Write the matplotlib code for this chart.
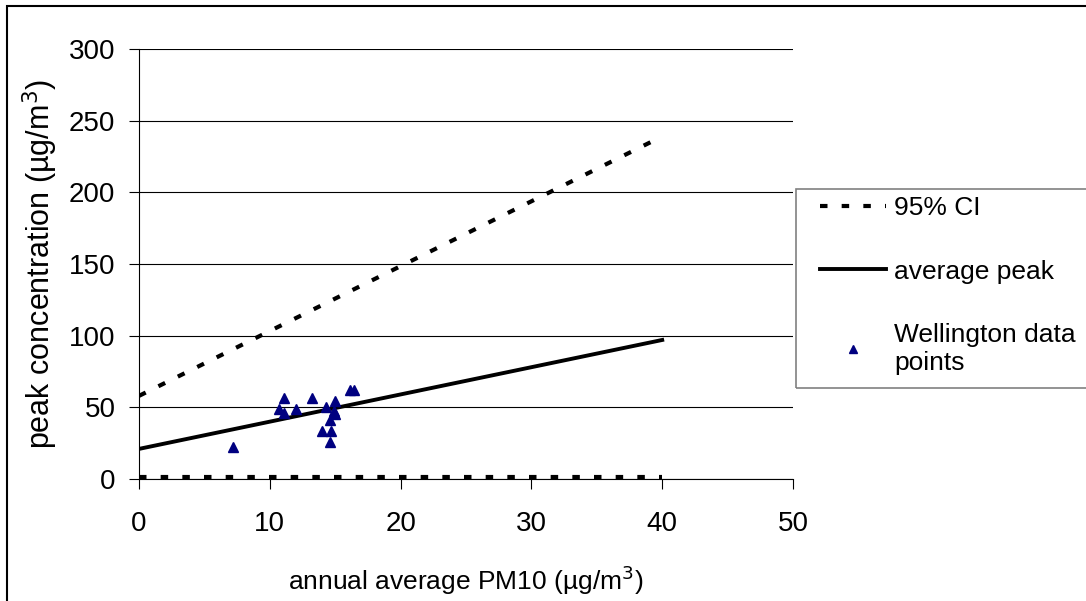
import matplotlib
matplotlib.use("Agg")
from matplotlib import pyplot as plt
from matplotlib.patches import Rectangle

plt.rcParams["font.family"] = ["Liberation Sans", "DejaVu Sans"]

# Wellington data points (annual average PM10, peak concentration)
pm10 = [7.2, 11.1, 10.7, 11.1, 12.0, 13.2, 14.3, 15.0, 14.9, 15.0, 14.6, 14.0, 14.7, 14.6, 16.1, 16.4]
peak = [22.1, 56.7, 49.1, 46.3, 49.1, 56.7, 50.0, 54.4, 47.7, 45.1, 41.2, 33.5, 33.5, 25.8, 62.1, 62.1]

# fitted lines
line_x = [0, 40]
avg_peak = [21, 97]
ci_upper = [58, 239]
ci_lower = [1.5, 1.5]

xticks = [0, 10, 20, 30, 40, 50]
yticks = [0, 50, 100, 150, 200, 250, 300]

W, H = 1086, 601
fig = plt.figure(figsize=(W / 100, H / 100), dpi=100)
ax = fig.add_axes([139 / W, 1 - 479 / H, (793 - 139) / W, (479 - 49) / H])

ci_line, = ax.plot(line_x, ci_upper, color="black", lw=3.0, dashes=(1.8, 3.4), label="95% CI")
ax.plot(line_x, ci_lower, color="black", lw=3.0, dashes=(1.8, 3.4))
avg_line, = ax.plot(line_x, avg_peak, color="black", lw=2.8, label="average peak")
pts, = ax.plot(pm10, peak, ls="none", marker="^", ms=7.5, color="#000080",
               label="Wellington data\npoints")

ax.set_xlim(0, 50)
ax.set_ylim(0, 300)
ax.set_xticks(xticks)
ax.set_yticks(yticks)
ax.yaxis.grid(True, color="black", lw=0.8)
ax.set_axisbelow(True)
for s in ["top", "right"]:
    ax.spines[s].set_visible(False)
ax.tick_params(axis="both", labelsize=20, length=7, width=0.8, direction="out")
ax.tick_params(axis="x", pad=16)
ax.tick_params(axis="y", pad=10)

ax.set_xlabel("annual average PM10 (µg/m$^3$)", fontsize=19)
ax.set_ylabel("peak concentration (µg/m$^3$)", fontsize=22)
ax.xaxis.set_label_coords(0.5, (479 - 580) / 430)
ax.xaxis.label.set_verticalalignment("center")
ax.yaxis.set_label_coords((40 - 139) / 654, 0.5)
ax.yaxis.label.set_verticalalignment("center")

# legend frame drawn by hand so the inner padding matches
fig.patches.append(Rectangle((796 / W, 1 - 388 / H), (W + 10 - 796) / W, 199 / H,
                             transform=fig.transFigure, fill=False,
                             edgecolor="#808080", lw=1.2, clip_on=False))
fig.legend(handles=[ci_line, avg_line, pts], loc="upper left",
           bbox_to_anchor=(820 / W, 1 - 196 / H), frameon=False, fontsize=19,
           handlelength=2.5, handletextpad=0.3, labelspacing=1.5,
           borderpad=0, borderaxespad=0, markerscale=0.7)

# outer chart border (left and top visible)
fig.patches.append(Rectangle((7 / W, -0.1), 1.2, 1.1 - 6 / H,
                             transform=fig.transFigure, fill=False,
                             edgecolor="black", lw=1.5, clip_on=False))

fig.savefig("out.png", dpi=100)
